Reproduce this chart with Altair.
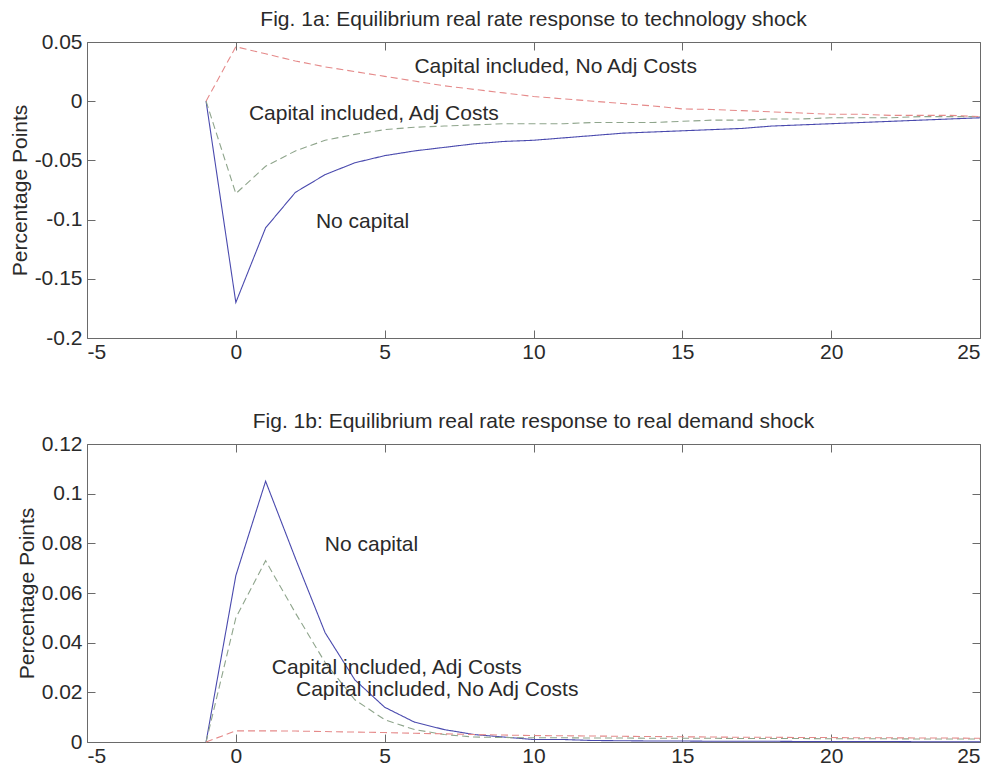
import altair as alt
import pandas as pd

steps = list(range(-1, 26))
series_names = ["No capital", "Capital included, Adj Costs", "Capital included, No Adj Costs"]

# Fig. 1a: technology shock
tech_no_capital = [0, -0.170, -0.107, -0.077, -0.062, -0.052, -0.046, -0.042, -0.039, -0.036,
                   -0.034, -0.033, -0.031, -0.029, -0.027, -0.026, -0.025, -0.024, -0.023, -0.021,
                   -0.020, -0.019, -0.018, -0.017, -0.016, -0.015, -0.014]
tech_adj = [0, -0.078, -0.055, -0.042, -0.033, -0.028, -0.024, -0.022, -0.021, -0.020,
            -0.019, -0.019, -0.019, -0.018, -0.018, -0.018, -0.017, -0.016, -0.016, -0.015,
            -0.015, -0.014, -0.014, -0.014, -0.013, -0.013, -0.013]
tech_no_adj = [0, 0.046, 0.040, 0.034, 0.029, 0.025, 0.021, 0.017, 0.013, 0.010,
               0.007, 0.004, 0.002, 0.000, -0.002, -0.004, -0.0065, -0.007, -0.008, -0.009,
               -0.010, -0.011, -0.011, -0.012, -0.012, -0.012, -0.013]

# Fig. 1b: real demand shock
dem_no_capital = [0, 0.067, 0.105, 0.074, 0.044, 0.025, 0.014, 0.008, 0.005, 0.003,
                  0.002, 0.001, 0.001, 0.0006, 0.0005, 0.0004, 0.0004, 0.0003, 0.0003, 0.0003,
                  0.0002, 0.0002, 0.0002, 0.0002, 0.0001, 0.0001, 0.0001]
dem_adj = [0, 0.050, 0.073, 0.052, 0.032, 0.017, 0.009, 0.005, 0.003, 0.002,
           0.0018, 0.0017, 0.0017, 0.0016, 0.0016, 0.0015, 0.0015, 0.0015, 0.0014, 0.0014,
           0.0014, 0.0013, 0.0013, 0.0013, 0.0012, 0.0012, 0.0012]
dem_no_adj = [0, 0.0045, 0.0045, 0.0044, 0.0042, 0.0040, 0.0038, 0.0035, 0.0033, 0.0030,
              0.0028, 0.0026, 0.0025, 0.0024, 0.0023, 0.0022, 0.0021, 0.0020, 0.0019, 0.0019,
              0.0018, 0.0018, 0.0017, 0.0017, 0.0016, 0.0016, 0.0015]

tech_labels = ["Capital included, No Adj Costs", "Capital included, Adj Costs", "No capital"]
tech_label_x = [6.0, 0.44, 2.69]
tech_label_y = [0.029, -0.011, -0.1017]
dem_labels = ["No capital", "Capital included, Adj Costs", "Capital included, No Adj Costs"]
dem_label_x = [2.99, 1.21, 2.02]
dem_label_y = [0.0793, 0.0296, 0.0211]

x_ticks = [-5, 0, 5, 10, 15, 20, 25]
tech_y_ticks = [-0.2, -0.15, -0.1, -0.05, 0, 0.05]
dem_y_ticks = [0, 0.02, 0.04, 0.06, 0.08, 0.1, 0.12]

titles = ["Fig. 1a: Equilibrium real rate response to technology shock",
          "Fig. 1b: Equilibrium real rate response to real demand shock"]

colors = ["#4a4aae", "#8fa58c", "#e58a8a"]
dashes = [[1, 0], [7, 4], [7, 4]]

FONT = "Liberation Sans"
FS = 21
TICK = 8
INK = "#2a2a2a"


def long_df(vals_list):
    rows = []
    for name, vals in zip(series_names, vals_list):
        for s, v in zip(steps, vals):
            rows.append({"step": s, "value": v, "series": name})
    return pd.DataFrame(rows)


def ax(**kw):
    base = dict(domain=False, grid=False, labelFont=FONT, labelFontSize=FS, labelColor=INK,
                tickColor="#6a6a6a", tickWidth=1, tickSize=TICK, offset=-TICK,
                titleFont=FONT, titleFontSize=FS, titleFontWeight="normal", titleColor=INK)
    base.update(kw)
    return alt.Axis(**base)


def panel(vals_list, labels, lx, ly, y_domain, y_ticks, title, h, toff):
    df = long_df(vals_list)
    xs = alt.Scale(domain=[-5, 25], nice=False, zero=False)
    ys = alt.Scale(domain=y_domain, nice=False, zero=False)
    lab = "replace(format(datum.value, '~g'), '\u2212', '-')"
    lines = alt.Chart(df).mark_line(strokeWidth=1.1).encode(
        x=alt.X("step:Q", scale=xs,
                axis=ax(values=x_ticks, labelExpr=lab, title=None, orient="bottom",
                        labelPadding=3)),
        y=alt.Y("value:Q", scale=ys,
                axis=ax(values=y_ticks, labelExpr=lab, title="Percentage Points",
                        orient="left", labelPadding=5, titlePadding=4)),
        color=alt.Color("series:N", scale=alt.Scale(domain=series_names, range=colors), legend=None),
        strokeDash=alt.StrokeDash("series:N", scale=alt.Scale(domain=series_names, range=dashes),
                                  legend=None),
    )
    tdf = pd.DataFrame({"label": labels, "x": lx, "y": ly})
    texts = alt.Chart(tdf).mark_text(align="left", baseline="middle", font=FONT,
                                     fontSize=FS, color=INK).encode(
        x=alt.X("x:Q", scale=xs,
                axis=ax(values=x_ticks, labels=False, title=None, orient="top")),
        y=alt.Y("y:Q", scale=ys,
                axis=ax(values=y_ticks, labels=False, title=None, orient="right")),
        text="label:N",
    )
    return alt.layer(lines, texts).resolve_axis(x="independent", y="independent").properties(
        width=893, height=h,
        title=alt.TitleParams(title, fontSize=FS, font=FONT, fontWeight="normal",
                              color=INK, offset=toff),
    )


top = panel([tech_no_capital, tech_adj, tech_no_adj], tech_labels, tech_label_x, tech_label_y,
            [-0.2, 0.05], tech_y_ticks, titles[0], 296, 1)
bottom = panel([dem_no_capital, dem_adj, dem_no_adj], dem_labels, dem_label_x, dem_label_y,
               [0, 0.12], dem_y_ticks, titles[1], 298, 1)

chart = alt.vconcat(top, bottom, spacing=47).properties(
    padding={"left": 0, "top": 0, "right": 0, "bottom": 0},
    background="white",
).configure_view(stroke="#6a6a6a", strokeWidth=1)

chart.save("out.html", embed_options={"renderer": "svg", "actions": False})
